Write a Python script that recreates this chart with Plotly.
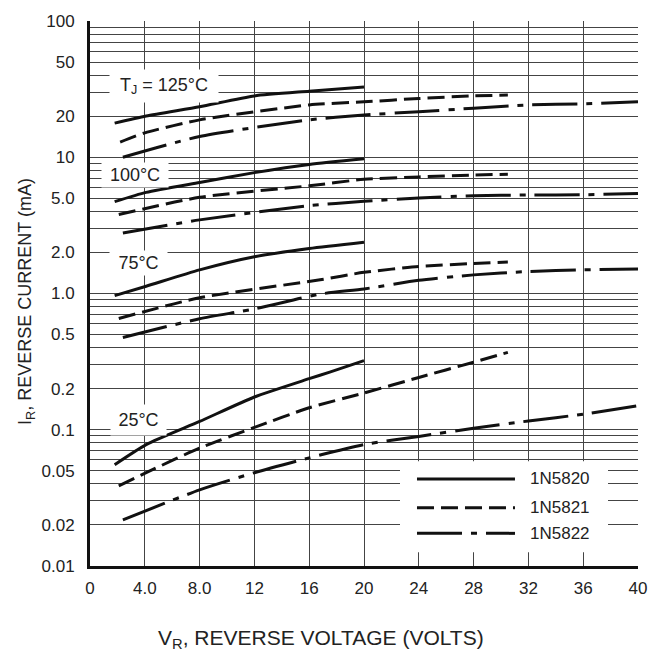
import plotly.graph_objects as go

# ---------------- data ----------------
# 1N5820 (solid), 1N5821 (dashed), 1N5822 (dash-dot); x = VR (V), y = IR (mA)
v_125_5820 = [1.8, 4.1, 8.0, 12.0, 16.0, 20.0]
i_125_5820 = [17.8, 20.1, 23.5, 28.2, 30.5, 32.8]
v_125_5821 = [2.2, 4.0, 8.0, 16.0, 20.0, 24.0, 28.0, 30.5]
i_125_5821 = [12.9, 15.1, 18.8, 24.2, 25.5, 27.0, 28.2, 28.6]
v_125_5822 = [2.4, 8.0, 16.0, 20.0, 24.0, 28.0, 32.0, 36.0, 40.0]
i_125_5822 = [10.0, 14.2, 18.8, 20.4, 21.6, 22.9, 24.2, 24.7, 25.5]

v_100_5820 = [1.8, 4.1, 8.0, 12.0, 16.0, 20.0]
i_100_5820 = [4.72, 5.52, 6.53, 7.71, 8.86, 9.75]
v_100_5821 = [2.1, 8.0, 16.0, 20.0, 24.0, 28.0, 30.5]
i_100_5821 = [3.80, 5.08, 6.17, 6.89, 7.17, 7.41, 7.50]
v_100_5822 = [2.4, 8.0, 16.0, 20.0, 24.0, 28.0, 32.0, 36.0, 40.0]
i_100_5822 = [2.78, 3.47, 4.41, 4.75, 5.02, 5.22, 5.28, 5.30, 5.43]

v_75_5820 = [1.8, 4.1, 8.0, 12.0, 16.0, 20.0]
i_75_5820 = [0.965, 1.13, 1.49, 1.86, 2.14, 2.38]
v_75_5821 = [2.1, 8.0, 16.8, 20.0, 24.0, 28.0, 30.5]
i_75_5821 = [0.656, 0.93, 1.26, 1.43, 1.58, 1.66, 1.70]
v_75_5822 = [2.4, 8.0, 12.0, 16.8, 20.0, 24.0, 28.0, 32.0, 36.0, 40.0]
i_75_5822 = [0.475, 0.653, 0.77, 0.99, 1.08, 1.25, 1.37, 1.45, 1.49, 1.51]

v_25_5820 = [1.8, 4.1, 8.0, 12.0, 16.0, 17.5, 20.0]
i_25_5820 = [0.0554, 0.0778, 0.115, 0.174, 0.237, 0.265, 0.322]
v_25_5821 = [2.1, 4.1, 8.0, 12.0, 16.0, 20.0, 24.0, 28.0, 30.5]
i_25_5821 = [0.0387, 0.0484, 0.0734, 0.104, 0.145, 0.186, 0.242, 0.313, 0.370]
v_25_5822 = [2.4, 8.0, 12.0, 16.0, 20.0, 24.0, 28.0, 32.0, 36.0, 40.0]
i_25_5822 = [0.0218, 0.0362, 0.0484, 0.0622, 0.0778, 0.0893, 0.1026, 0.116, 0.130, 0.150]

x_ticks = [0, 4, 8, 12, 16, 20, 24, 28, 32, 36, 40]
x_ticktext = ["0", "4.0", "8.0", "12", "16", "20", "24", "28", "32", "36", "40"]
y_ticks = [0.01, 0.02, 0.05, 0.1, 0.2, 0.5, 1, 2, 5, 10, 20, 50, 100]
y_ticktext = ["0.01", "0.02", "0.05", "0.1", "0.2", "0.5", "1.0", "2.0", "5.0", "10", "20", "50", "100"]
temp_labels = ["T<sub>J</sub> = 125°C", "100°C", "75°C", "25°C"]
legend_names = ["1N5820", "1N5821", "1N5822"]

# ---------------- styling ----------------
FONT = "Liberation Sans, Arial, sans-serif"
INK = "#111111"
TXT = "#222222"
GRID = "#444444"
DASHES = {"1N5820": "solid", "1N5821": "17px,7px", "1N5822": "45px,9px,6px,9px"}

series = [
    (v_125_5820, i_125_5820, "1N5820"), (v_125_5821, i_125_5821, "1N5821"), (v_125_5822, i_125_5822, "1N5822"),
    (v_100_5820, i_100_5820, "1N5820"), (v_100_5821, i_100_5821, "1N5821"), (v_100_5822, i_100_5822, "1N5822"),
    (v_75_5820, i_75_5820, "1N5820"), (v_75_5821, i_75_5821, "1N5821"), (v_75_5822, i_75_5822, "1N5822"),
    (v_25_5820, i_25_5820, "1N5820"), (v_25_5821, i_25_5821, "1N5821"), (v_25_5822, i_25_5822, "1N5822"),
]

fig = go.Figure()
for vx, iy, name in series:
    fig.add_trace(go.Scatter(
        x=vx, y=iy, mode="lines", name=name, showlegend=False,
        line=dict(color=INK, width=3, dash=DASHES[name], shape="spline", smoothing=0.6),
        hoverinfo="skip"))

# minor y gridlines at the remaining 1..9 multiples of each decade
y_minor = []
for dec in [0.01, 0.1, 1, 10]:
    for m in range(2, 10):
        v = round(dec * m, 6)
        if v not in y_ticks:
            y_minor.append(v)

fig.update_layout(
    width=665, height=658, autosize=False,
    margin=dict(l=90, r=27, t=15, b=92),
    paper_bgcolor="white", plot_bgcolor="white",
    font=dict(family=FONT, size=17, color=TXT),
    xaxis=dict(range=[0, 40], tickmode="array", tickvals=x_ticks, ticktext=x_ticktext,
               showgrid=True, gridcolor=GRID, gridwidth=1, zeroline=False,
               showline=True, linecolor=INK, linewidth=3, ticks="", ticklabelstandoff=5,
               tickfont=dict(size=17, family=FONT, color=TXT)),
    yaxis=dict(type="log", range=[-2, 2], tickmode="array", tickvals=y_ticks, ticktext=y_ticktext,
               showgrid=True, gridcolor=GRID, gridwidth=1, zeroline=False,
               showline=True, linecolor=INK, linewidth=3, ticks="", ticklabelstandoff=9,
               tickfont=dict(size=17, family=FONT, color=TXT),
               minor=dict(tickmode="array", tickvals=y_minor, showgrid=True,
                          gridcolor=GRID, gridwidth=1, ticks="")),
    showlegend=False,
)

# temperature labels (white boxes over the grid)
label_pos = [(0.1350, 0.8802, 108, 32), (0.0821, 0.7169, 66, 24),
             (0.0894, 0.5554, 57, 24), (0.0876, 0.2686, 55, 30)]
for txt, (xp, yp, w, h) in zip(temp_labels, label_pos):
    fig.add_annotation(x=xp, y=yp, xref="paper", yref="paper", text=txt, showarrow=False,
                       xanchor="center", yanchor="middle", width=w, height=h,
                       bgcolor="white", borderpad=0,
                       font=dict(family=FONT, size=18, color=TXT))

# custom legend: white panel, then line samples on top
fig.add_shape(type="rect", xref="paper", yref="paper", x0=0.5657, x1=0.9453, y0=0.0254, y1=0.1924,
              fillcolor="white", line=dict(width=0), layer="above")
rows = [0.1597, 0.1071, 0.0599]
for name, yp in zip(legend_names, rows):
    fig.add_shape(type="line", xref="paper", yref="paper", x0=0.5967, x1=0.7755, y0=yp, y1=yp,
                  line=dict(color=INK, width=3, dash=DASHES[name]), layer="above")
    fig.add_annotation(x=0.7993, y=yp, xref="paper", yref="paper", text=name, showarrow=False,
                       xanchor="left", yanchor="middle",
                       font=dict(family=FONT, size=17, color=TXT))

# axis titles
fig.add_annotation(x=0.422, y=-0.134, xref="paper", yref="paper",
                   text="V<sub>R</sub>, REVERSE VOLTAGE (VOLTS)", showarrow=False,
                   xanchor="center", yanchor="middle",
                   font=dict(family=FONT, size=21, color=TXT))
fig.add_annotation(x=-0.115, y=0.4864, xref="paper", yref="paper",
                   text="I<sub>R</sub>, REVERSE CURRENT (mA)", showarrow=False, textangle=-90,
                   xanchor="center", yanchor="middle",
                   font=dict(family=FONT, size=18, color=TXT))

fig.write_html("out.html")
